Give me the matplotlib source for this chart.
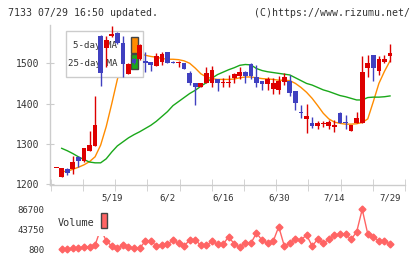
import matplotlib
matplotlib.use('Agg')
import matplotlib.pyplot as plt
from matplotlib.patches import Rectangle
import numpy as np

nan = np.nan
dates = ['5/1', '5/2', '5/7', '5/8', '5/9', '5/12', '5/13', '5/14', '5/15', '5/16',
         '5/19', '5/20', '5/21', '5/22', '5/23', '5/26', '5/27', '5/28', '5/29', '5/30',
         '6/2', '6/3', '6/4', '6/5', '6/6', '6/9', '6/10', '6/11', '6/12', '6/13',
         '6/16', '6/17', '6/18', '6/19', '6/20', '6/23', '6/24', '6/25', '6/26', '6/27',
         '6/30', '7/1', '7/2', '7/3', '7/4', '7/7', '7/8', '7/9', '7/10', '7/11',
         '7/14', '7/15', '7/16', '7/17', '7/18', '7/22', '7/23', '7/24', '7/25', '7/28',
         '7/29']
label_dates = ['5/19', '6/2', '6/16', '6/30', '7/14', '7/29']

opens = [1240, 1219, 1238, 1238, 1268, 1258, 1283, 1296, 1568, 1537,
         1568, 1576, 1550, 1474, 1511, 1510, 1506, 1502, 1494, 1504,
         1527, 1504, 1500, 1500, 1477, 1452, 1440, 1450, 1450, 1461,
         1451, 1450, 1464, 1468, 1479, 1498, 1467, 1456, 1449, 1436,
         1434, 1453, 1456, 1430, 1380, 1362, 1351, 1345, 1350, 1345,
         1343, 1377, 1355, 1333, 1351, 1351, 1489, 1521, 1482, 1502,
         1517]
highs = [1240, 1240, 1240, 1270, 1270, 1291, 1333, 1419, 1570, 1568,
         1592, 1578, 1568, 1500, 1513, 1547, 1527, 1503, 1526, 1529,
         1529, 1506, 1505, 1501, 1480, 1452, 1450, 1492, 1493, 1462,
         1463, 1471, 1476, 1492, 1480, 1501, 1496, 1457, 1466, 1463,
         1469, 1475, 1471, 1432, 1397, 1398, 1366, 1358, 1358, 1360,
         1359, 1378, 1372, 1348, 1380, 1518, 1521, 1521, 1518, 1521,
         1548]
lows = [1240, 1218, 1224, 1226, 1242, 1255, 1282, 1295, 1444, 1492,
        1565, 1549, 1466, 1473, 1498, 1508, 1478, 1482, 1494, 1496,
        1500, 1500, 1490, 1485, 1447, 1397, 1440, 1450, 1440, 1432,
        1440, 1440, 1452, 1461, 1450, 1461, 1440, 1434, 1434, 1425,
        1424, 1447, 1419, 1384, 1364, 1328, 1339, 1336, 1341, 1338,
        1330, 1352, 1336, 1332, 1351, 1351, 1465, 1457, 1471, 1500,
        1504]
closes = [1240, 1240, 1227, 1255, 1258, 1290, 1297, 1347, 1475, 1558,
          1572, 1550, 1497, 1499, 1501, 1545, 1500, 1495, 1518, 1523,
          1501, 1500, 1501, 1485, 1450, 1440, 1450, 1477, 1483, 1450,
          1453, 1454, 1473, 1479, 1468, 1468, 1452, 1448, 1461, 1452,
          1456, 1467, 1427, 1402, 1376, 1369, 1345, 1353, 1352, 1355,
          1347, 1353, 1351, 1347, 1364, 1478, 1500, 1489, 1510, 1511,
          1525]
ma5 = [nan, 1231, 1232, 1237, 1242, 1248, 1256, 1268, 1297, 1343,
       1400, 1460, 1505, 1525, 1528, 1524, 1520, 1517, 1515, 1512,
       1510, 1510, 1509, 1506, 1500, 1488, 1474, 1466, 1462, 1460,
       1460, 1460, 1461, 1464, 1466, 1466, 1464, 1462, 1461, 1460,
       1458, 1458, 1457, 1450, 1440, 1428, 1413, 1395, 1376, 1362,
       1354, 1351, 1349, 1349, 1350, 1353, 1362, 1405, 1450, 1480,
       1506]
ma25 = [nan, 1289, 1283, 1276, 1268, 1261, 1255, 1253, 1253, 1263,
        1280, 1295, 1305, 1315, 1323, 1330, 1338, 1346, 1356, 1368,
        1380, 1395, 1405, 1415, 1425, 1433, 1443, 1452, 1463, 1472,
        1478, 1484, 1489, 1495, 1497, 1496, 1487, 1482, 1479, 1477,
        1475, 1473, 1471, 1464, 1457, 1450, 1446, 1440, 1434, 1430,
        1425, 1420, 1417, 1413, 1409, 1409, 1415, 1416, 1416, 1417,
        1419]
volume = [nan, 800, 1450, 2950, 2950, 6400, 5740, 9400, 45000, 18600,
          7900, 2950, 9400, 5100, 2950, 2950, 18000, 19300, 7900, 9400,
          12200, 20100, 13700, 7900, 20800, 20800, 9400, 9400, 18000, 11500,
          11500, 27900, 12200, 5100, 15000, 13700, 35800, 20100, 13700, 18000,
          49400, 7900, 13700, 22900, 20800, 31500, 7900, 22300, 13700, 22300,
          30900, 33700, 33700, 22300, 38000, 86700, 33700, 26600, 19300, 18000,
          12200]
vol_ticks = [800, 43750, 86700]
price_ticks = [1200, 1300, 1400, 1500]

RED = '#dd0000'
BLUE = '#4040c0'
ORANGE = '#ff8c00'
GREEN = '#1aa81a'
VOLC = '#ff6464'
GRID = '#cccccc'
TXT = '#333333'
MONO = 'DejaVu Sans Mono'

W, H = 420, 259
fig = plt.figure(figsize=(W / 100, H / 100), dpi=100)

def fx(px):
    return px / W

def fy(py):
    return 1 - py / H

ax = fig.add_axes([fx(50), fy(185), 355 / W, 160 / H])
axv = fig.add_axes([fx(50), fy(255), 355 / W, 52 / H])

n = len(dates)
x = np.arange(n)
step = 5.565
x0px = 56.135
xlim = ((50 - x0px) / step, (405 - x0px) / step)

# candles
for i in range(n):
    o, h, l, c = opens[i], highs[i], lows[i], closes[i]
    col = RED if c >= o else BLUE
    ax.vlines(x[i], l, h, color=col, lw=1, zorder=5)
    bot = min(o, c)
    hgt = max(abs(c - o), 2.2)
    ax.bar(x[i], hgt, bottom=bot, width=0.85, color=col, lw=0, zorder=5)

ax.plot(x, ma5, color=ORANGE, lw=1, zorder=2)
ax.plot(x, ma25, color=GREEN, lw=1, zorder=2)

ax.set_xlim(*xlim)
ax.set_ylim(1198, 1595)
for s in ['top', 'right']:
    ax.spines[s].set_visible(False)
for s in ['left', 'bottom']:
    ax.spines[s].set_color(GRID)
    ax.spines[s].set_linewidth(1)
ax.set_yticks(price_ticks)
ax.set_yticklabels([str(t) for t in price_ticks], family=MONO, fontsize=7, color=TXT)
ax.tick_params(axis='y', direction='inout', length=6, color=GRID, pad=5)
lab_idx = [dates.index(d) for d in label_dates]
ax.set_xticks(lab_idx)
ax.set_xticklabels(label_dates, family=MONO, fontsize=6.5, color=TXT)
ax.tick_params(axis='x', which='major', length=0, pad=6)
ax.set_xticks(np.linspace(xlim[0] + 0.15, xlim[1], 12), minor=True)
ax.tick_params(axis='x', which='minor', direction='inout', length=9, color=GRID)

# main legend (drawn beneath candles)
tf = fig.transFigure
ax.add_patch(Rectangle((fx(66), fy(77)), fx(143) - fx(66), fy(31) - fy(77), transform=tf,
                       facecolor='white', edgecolor=GRID, lw=1, zorder=3, clip_on=False))
ax.text(fx(117), fy(46), '5-day MA', transform=tf, ha='right', va='center',
        family=MONO, fontsize=6.6, color=TXT, zorder=3.1)
ax.text(fx(117), fy(63), '25-day MA', transform=tf, ha='right', va='center',
        family=MONO, fontsize=6.6, color=TXT, zorder=3.1)
ax.add_patch(Rectangle((fx(131), fy(52.7)), fx(137.5) - fx(131), fy(37.3) - fy(52.7), transform=tf,
                       facecolor=ORANGE, edgecolor='#444444', lw=1, zorder=3.2, clip_on=False))
ax.add_patch(Rectangle((fx(131), fy(69.3)), fx(137.5) - fx(131), fy(54) - fy(69.3), transform=tf,
                       facecolor=GREEN, edgecolor='#444444', lw=1, zorder=3.2, clip_on=False))

# volume
axv.plot(x, volume, color=VOLC, lw=1, marker='D', markersize=3.5, zorder=2)
vmin_y = 800 - (255 - 249.3) * 2147.5
vmax_y = 86700 + (209.3 - 203) * 2147.5
axv.set_ylim(vmin_y, vmax_y)
axv.set_xlim(*xlim)
for s in axv.spines.values():
    s.set_visible(False)
axv.set_xticks([])
axv.set_yticks(vol_ticks)
axv.set_yticklabels([str(t) for t in vol_ticks], family=MONO, fontsize=6.5, color=TXT)
axv.tick_params(axis='y', length=0, pad=4)
axv.add_patch(Rectangle((fx(53), fy(236)), fx(110) - fx(53), fy(208) - fy(236), transform=tf,
                        facecolor='white', edgecolor='none', zorder=5, clip_on=False))
axv.text(fx(58), fy(222.5), 'Volume', transform=tf, ha='left', va='center',
         family=MONO, fontsize=7.3, color=TXT, zorder=6)
axv.add_patch(Rectangle((fx(100.7), fy(228.3)), fx(107) - fx(100.7), fy(213.3) - fy(228.3), transform=tf,
                        facecolor=VOLC, edgecolor='#444444', lw=1, zorder=6, clip_on=False))

fig.text(fx(8), fy(12.7), '7133 07/29 16:50 updated.', family=MONO, fontsize=7.1,
         color=TXT, ha='left', va='center')
fig.text(fx(410), fy(12.7), '(C)https://www.rizumu.net/', family=MONO, fontsize=7.1,
         color=TXT, ha='right', va='center')

fig.savefig('out.png', dpi=100)
